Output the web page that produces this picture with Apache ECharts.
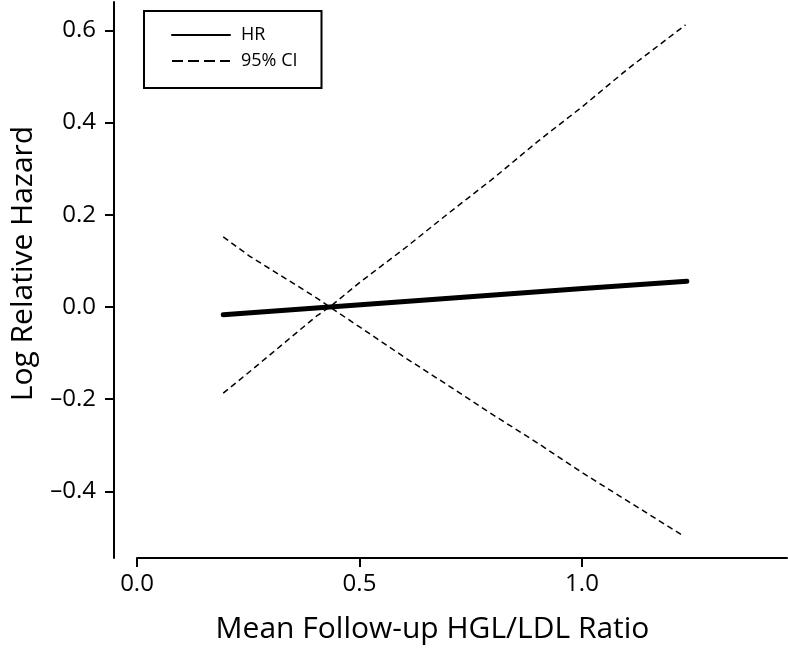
<!DOCTYPE html>
<html>
<head>
<meta charset="utf-8">
<script src="https://cdn.jsdelivr.net/npm/echarts@6/dist/echarts.min.js"></script>
<style>
  html, body { margin: 0; padding: 0; background: #fff; }
  #chart { width: 788px; height: 652px; }
</style>
</head>
<body>
<div id="chart"></div>
<script>
// ---- data ----
const hrX = [0.19, 0.43, 0.60, 0.80, 1.00, 1.235];
const hrY = [-0.017, 0.0, 0.012, 0.026, 0.040, 0.056];

const ciUpperX = [0.19, 0.25, 0.30, 0.35, 0.40, 0.43, 0.50, 0.60, 0.70, 0.80, 0.90, 1.00, 1.10, 1.232];
const ciUpperY = [-0.187, -0.14, -0.10, -0.06, -0.02, 0.0, 0.055, 0.128, 0.205, 0.28, 0.36, 0.435, 0.515, 0.612];

const ciLowerX = [0.19, 0.25, 0.30, 0.35, 0.40, 0.43, 0.50, 0.60, 0.70, 0.80, 0.90, 1.00, 1.10, 1.228];
const ciLowerY = [0.152, 0.11, 0.08, 0.05, 0.02, 0.0, -0.045, -0.11, -0.172, -0.235, -0.296, -0.36, -0.42, -0.497];

const yTicks = [-0.4, -0.2, 0.0, 0.2, 0.4, 0.6];
const xTicks = [0.0, 0.5, 1.0];

const seriesNames = ['HR', '95% CI'];
const xTitle = 'Mean Follow-up HGL/LDL Ratio';
const yTitle = 'Log Relative Hazard';

// ---- build ----
const zip = (xs, ys) => xs.map((x, i) => [x, ys[i]]);
const FONT = 'Open Sans';

const chart = echarts.init(document.getElementById('chart'), null, { renderer: 'canvas' });
chart.setOption({
  animation: false,
  backgroundColor: '#fff',
  textStyle: { fontFamily: FONT, color: '#000' },
  legend: {
    data: [
      { name: seriesNames[0], lineStyle: { width: 2, type: 'solid' } },
      { name: seriesNames[1], lineStyle: { width: 2, type: [11, 5] } }
    ],
    orient: 'vertical',
    left: 144,
    top: 11,
    padding: [15, 24, 18, 27],
    itemWidth: 58,
    itemHeight: 14,
    itemGap: 8,
    borderColor: '#000',
    borderWidth: 2,
    borderRadius: 0,
    itemStyle: { color: 'rgba(0,0,0,0)', borderWidth: 0, opacity: 0 },
    lineStyle: { width: 2 },
    textStyle: { fontFamily: FONT, fontSize: 18, color: '#000', lineHeight: 18, padding: [0, 0, 0, 6] },
    selectedMode: false
  },
  grid: [
    { left: 112, right: 1, top: 2, bottom: 94, containLabel: false },
    { left: 137, right: 1, bottom: 94, height: 1, containLabel: false }
  ],
  xAxis: [
    {
      gridIndex: 0, type: 'value', min: -0.0562, max: 1.4607,
      axisLine: { show: false }, axisTick: { show: false },
      axisLabel: { show: false }, splitLine: { show: false }
    },
    {
      gridIndex: 1, type: 'value', min: 0, max: 1.4607, interval: 0.5,
      axisLine: { show: true, onZero: false, lineStyle: { color: '#000', width: 2 } },
      axisTick: { show: true, length: 9, lineStyle: { color: '#000', width: 2 }, customValues: xTicks },
      axisLabel: {
        show: true, margin: 14, fontSize: 24, fontFamily: FONT, color: '#000',
        customValues: xTicks,
        formatter: v => v.toFixed(1)
      },
      splitLine: { show: false },
      name: xTitle, nameLocation: 'middle', nameGap: 56,
      nameTextStyle: { fontSize: 30, fontFamily: FONT, color: '#000', padding: [0, 59, 0, 0] }
    }
  ],
  yAxis: [
    {
      gridIndex: 0, type: 'value', min: -0.5445, max: 0.6616,
      axisLine: { show: true, onZero: false, lineStyle: { color: '#000', width: 2 } },
      axisTick: { show: true, length: 9, lineStyle: { color: '#000', width: 2 }, customValues: yTicks },
      axisLabel: {
        show: true, margin: 18, fontSize: 24, fontFamily: FONT, color: '#000',
        customValues: yTicks,
        formatter: v => (Math.abs(v) < 1e-9 ? '0.0' : (v < 0 ? '\u2013' + Math.abs(v).toFixed(1) : v.toFixed(1)))
      },
      splitLine: { show: false },
      name: yTitle, nameLocation: 'middle', nameGap: 76,
      nameTextStyle: { fontSize: 30, fontFamily: FONT, color: '#000', padding: [0, 0, 0, 33] }
    },
    {
      gridIndex: 1, type: 'value', min: 0, max: 1, show: false
    }
  ],
  series: [
    {
      name: 'HR', type: 'line', xAxisIndex: 0, yAxisIndex: 0,
      data: zip(hrX, hrY), symbol: 'none', smooth: false,
      lineStyle: { color: '#000', width: 5, cap: 'round' }, itemStyle: { color: '#000' }, z: 3
    },
    {
      name: '95% CI', type: 'line', xAxisIndex: 0, yAxisIndex: 0,
      data: zip(ciUpperX, ciUpperY), symbol: 'none',
      lineStyle: { color: '#000', width: 1.5, type: [6, 4] }, itemStyle: { color: '#000' }
    },
    {
      name: '95% CI', type: 'line', xAxisIndex: 0, yAxisIndex: 0,
      data: zip(ciLowerX, ciLowerY), symbol: 'none',
      lineStyle: { color: '#000', width: 1.5, type: [6, 4] }, itemStyle: { color: '#000' }
    }
  ]
});
</script>
</body>
</html>
